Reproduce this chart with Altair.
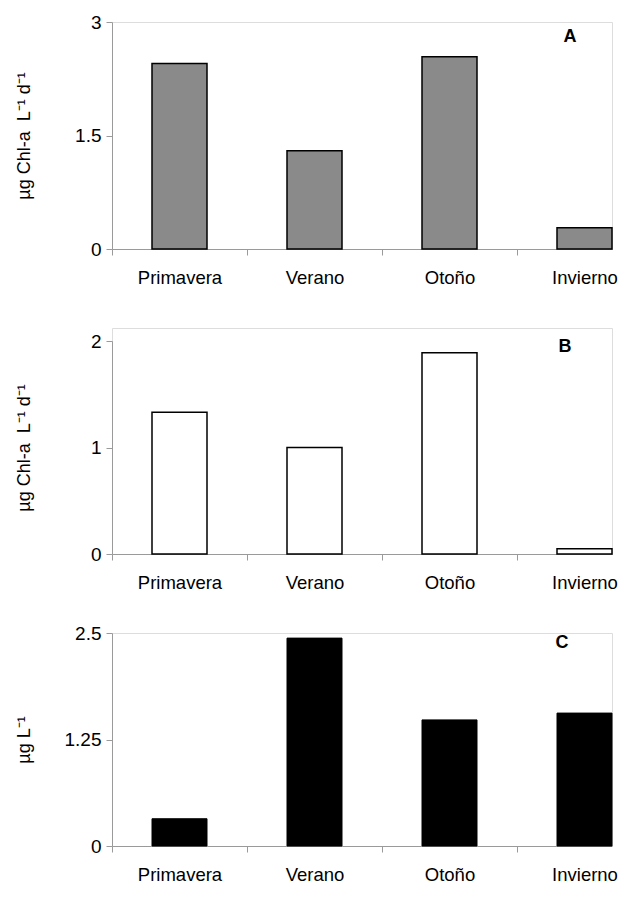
import altair as alt
import pandas as pd

seasons = ["Primavera", "Verano", "Otoño", "Invierno"]
panel_a = [2.45, 1.30, 2.54, 0.28]
panel_b = [1.33, 1.00, 1.89, 0.05]
panel_c = [0.32, 2.44, 1.48, 1.56]

ticks_a = [0, 1.5, 3]
ticks_b = [0, 1, 2]
ticks_c = [0, 1.25, 2.5]

title_ab = "µg Chl-a \u00a0L⁻¹ d⁻¹"
title_c = "µg L⁻¹"
letters = ["A", "B", "C"]

FONT = "Liberation Sans"
W = 500
STEP = 135.0
BAR = 55.0
PI = 1 - BAR / STEP
LEFT_GAP = 40.0
leftover = W - STEP * (len(seasons) - PI)
PO = leftover / (2 * STEP)
ALIGN = min(1.0, LEFT_GAP / leftover)
AXIS_GRAY = "#9a9a9a"


def frame(vals):
    return pd.DataFrame({"season": seasons, "v": vals})


def xenc():
    return alt.X(
        "season:N",
        sort=seasons,
        scale=alt.Scale(paddingInner=PI, paddingOuter=PO, align=ALIGN),
        axis=alt.Axis(
            title=None, labelAngle=0, tickSize=6,
            tickOffset=-(LEFT_GAP + BAR / 2), labelOffset=(LEFT_GAP + BAR / 2),
            labelPadding=13, labelFontSize=18.5, labelColor="black", labelFont=FONT,
            domainColor=AXIS_GRAY, tickColor=AXIS_GRAY, labelFlush=False,
        ),
    )


def yenc(top, ticks, title, rng):
    return alt.Y(
        "v:Q",
        scale=alt.Scale(domain=[0, top], nice=False, range=rng),
        axis=alt.Axis(
            values=ticks, format=".3~g", grid=False, tickSize=6, labelPadding=5,
            labelFontSize=19, labelColor="black", labelFont=FONT,
            domainColor=AXIS_GRAY, tickColor=AXIS_GRAY,
            title=title, titleX=-79, titleFontSize=18, titleFontWeight="normal",
            titleColor="black", titleFont=FONT,
        ),
    )


def letter(ch, px, py):
    return alt.Chart(pd.DataFrame({"t": [ch]})).mark_text(
        fontWeight="bold", fontSize=18, font=FONT, color="black",
        align="center", baseline="middle",
    ).encode(text="t:N", x=alt.value(px), y=alt.value(py))


H_A, H_B, H_C = 227, 213, 213
EXTRA_B = 13
GAP = 79

bars_a = alt.Chart(frame(panel_a)).mark_bar(
    fill="#8a8a8a", stroke="black", strokeWidth=1.5
).encode(x=xenc(), y=yenc(3, ticks_a, title_ab, [H_A, 0]))
chart_a = alt.layer(bars_a, letter(letters[0], 458, 15)).properties(width=W, height=H_A)

bars_b = alt.Chart(frame(panel_b)).mark_bar(
    fill="white", stroke="black", strokeWidth=1.5
).encode(x=xenc(), y=yenc(2, ticks_b, title_ab, [H_B + EXTRA_B, EXTRA_B]))
chart_b = alt.layer(bars_b, letter(letters[1], 453, 6 + EXTRA_B)).properties(
    width=W, height=H_B + EXTRA_B
)

bars_c = alt.Chart(frame(panel_c)).mark_bar(
    fill="black", stroke="black", strokeWidth=1
).encode(x=xenc(), y=yenc(2.5, ticks_c, title_c, [H_C, 0]))
chart_c = alt.layer(bars_c, letter(letters[2], 450, 10)).properties(width=W, height=H_C)

chart = alt.vconcat(chart_a, chart_b, chart_c, spacing=GAP, bounds="flush").properties(
    padding={"left": 6, "top": 4, "right": 0, "bottom": 0}
).configure_view(stroke=None).configure(font=FONT)

chart.save("out.html", embed_options={"renderer": "svg", "actions": False})
